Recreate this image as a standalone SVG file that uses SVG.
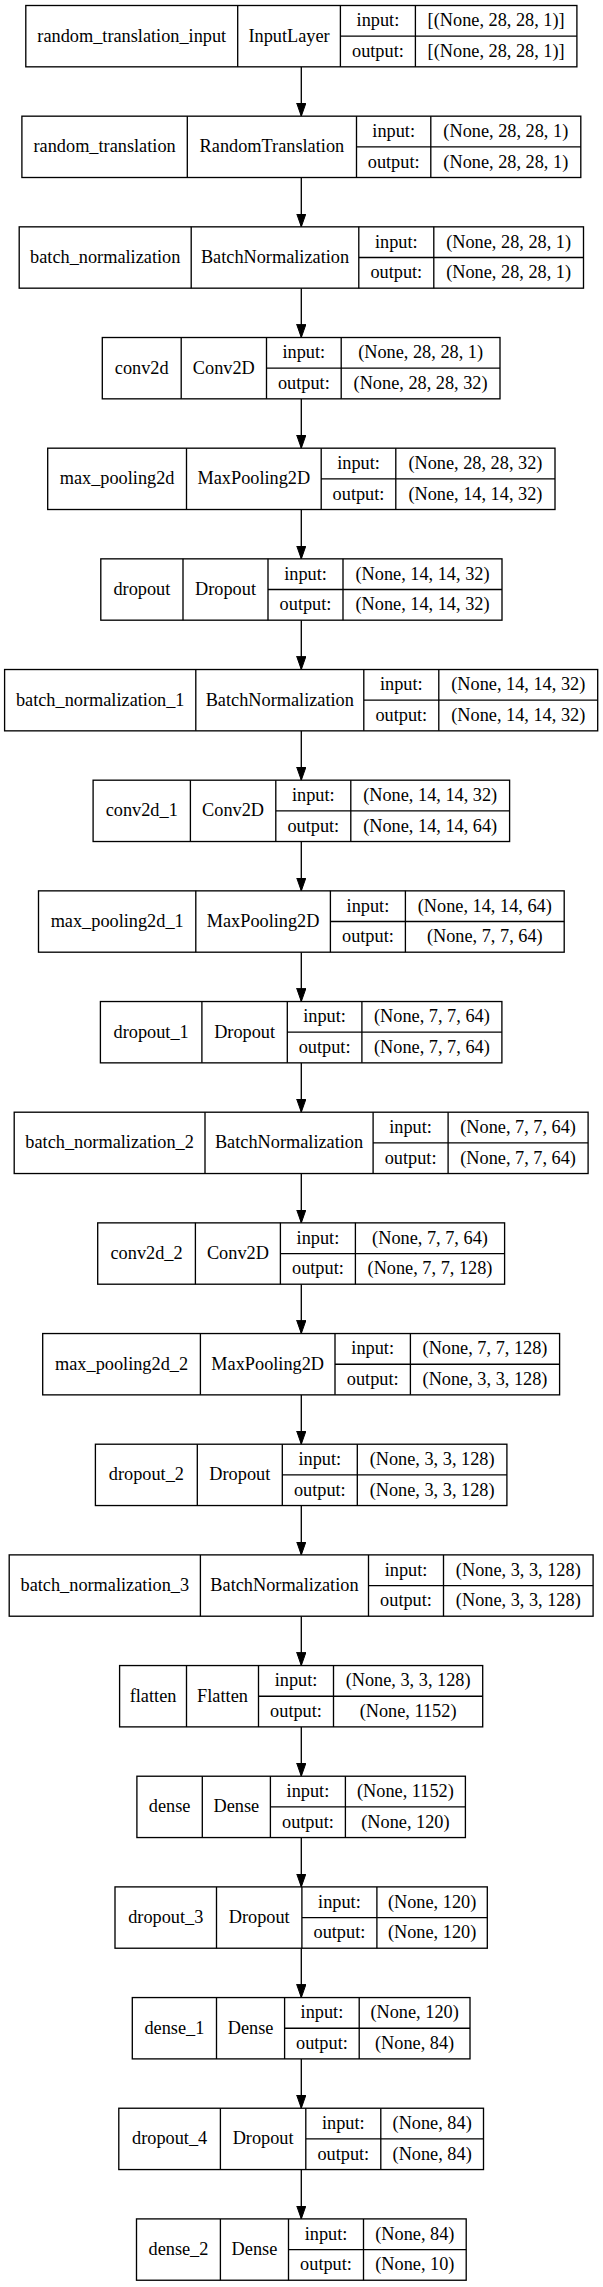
<svg xmlns="http://www.w3.org/2000/svg" width="603" height="2287" viewBox="0 0 603 2287">
<style>
.b{fill:#fff;stroke:#000;stroke-width:1.33}
.l{stroke:#000;stroke-width:1.33;fill:none}
text{font-family:"Liberation Serif","Times New Roman",serif;font-size:18.3px;fill:#000;text-anchor:middle}
.e{stroke:#000;stroke-width:1.33;fill:none}
</style>
<defs>
<marker id="ah" markerUnits="userSpaceOnUse" markerWidth="14" markerHeight="10" refX="13.3" refY="4.67" orient="auto">
<path d="M0,0 L13.3,4.67 L0,9.33 z" fill="#000" stroke="#000" stroke-width="1"/>
</marker>
</defs>
<rect x="0" y="0" width="603" height="2287" fill="#fff"/>
<g id="connectors">
<line class="e" x1="301.3" y1="66.8" x2="301.3" y2="116.2" marker-end="url(#ah)"/>
<line class="e" x1="301.3" y1="177.5" x2="301.3" y2="226.8" marker-end="url(#ah)"/>
<line class="e" x1="301.3" y1="288.2" x2="301.3" y2="337.5" marker-end="url(#ah)"/>
<line class="e" x1="301.3" y1="398.8" x2="301.3" y2="448.2" marker-end="url(#ah)"/>
<line class="e" x1="301.3" y1="509.5" x2="301.3" y2="558.9" marker-end="url(#ah)"/>
<line class="e" x1="301.3" y1="620.2" x2="301.3" y2="669.5" marker-end="url(#ah)"/>
<line class="e" x1="301.3" y1="730.9" x2="301.3" y2="780.2" marker-end="url(#ah)"/>
<line class="e" x1="301.3" y1="841.5" x2="301.3" y2="890.9" marker-end="url(#ah)"/>
<line class="e" x1="301.3" y1="952.2" x2="301.3" y2="1001.5" marker-end="url(#ah)"/>
<line class="e" x1="301.3" y1="1062.9" x2="301.3" y2="1112.2" marker-end="url(#ah)"/>
<line class="e" x1="301.3" y1="1173.5" x2="301.3" y2="1222.9" marker-end="url(#ah)"/>
<line class="e" x1="301.3" y1="1284.2" x2="301.3" y2="1333.5" marker-end="url(#ah)"/>
<line class="e" x1="301.3" y1="1394.9" x2="301.3" y2="1444.2" marker-end="url(#ah)"/>
<line class="e" x1="301.3" y1="1505.5" x2="301.3" y2="1554.9" marker-end="url(#ah)"/>
<line class="e" x1="301.3" y1="1616.2" x2="301.3" y2="1665.5" marker-end="url(#ah)"/>
<line class="e" x1="301.3" y1="1726.9" x2="301.3" y2="1776.2" marker-end="url(#ah)"/>
<line class="e" x1="301.3" y1="1837.5" x2="301.3" y2="1886.9" marker-end="url(#ah)"/>
<line class="e" x1="301.3" y1="1948.2" x2="301.3" y2="1997.6" marker-end="url(#ah)"/>
<line class="e" x1="301.3" y1="2058.9" x2="301.3" y2="2108.2" marker-end="url(#ah)"/>
<line class="e" x1="301.3" y1="2169.6" x2="301.3" y2="2218.9" marker-end="url(#ah)"/>
</g>

<g id="random_translation_input" transform="translate(0,5.5)">
<rect class="b" x="25.8" y="0" width="551.1" height="61.33"/>
<path class="l" d="M237.7,0V61.33M340.4,0V61.33M415.4,0V61.33M340.4,30.67H576.9"/>
<text x="131.75" y="36.2">random_translation_input</text>
<text x="289.05" y="36.2">InputLayer</text>
<text x="377.9" y="20.8">input:</text><text x="377.9" y="51.5">output:</text>
<text x="496.15" y="20.8">[(None, 28, 28, 1)]</text><text x="496.15" y="51.5">[(None, 28, 28, 1)]</text>
</g>

<g id="random_translation" transform="translate(0,116.17)">
<rect class="b" x="21.9" y="0" width="558.9" height="61.33"/>
<path class="l" d="M187.3,0V61.33M356.5,0V61.33M430.8,0V61.33M356.5,30.67H580.8"/>
<text x="104.6" y="36.2">random_translation</text>
<text x="271.9" y="36.2">RandomTranslation</text>
<text x="393.65" y="20.8">input:</text><text x="393.65" y="51.5">output:</text>
<text x="505.8" y="20.8">(None, 28, 28, 1)</text><text x="505.8" y="51.5">(None, 28, 28, 1)</text>
</g>

<g id="batch_normalization" transform="translate(0,226.84)">
<rect class="b" x="19.2" y="0" width="564.3" height="61.33"/>
<path class="l" d="M191.2,0V61.33M358.8,0V61.33M433.8,0V61.33M358.8,30.67H583.5"/>
<text x="105.2" y="36.2">batch_normalization</text>
<text x="275" y="36.2">BatchNormalization</text>
<text x="396.3" y="20.8">input:</text><text x="396.3" y="51.5">output:</text>
<text x="508.65" y="20.8">(None, 28, 28, 1)</text><text x="508.65" y="51.5">(None, 28, 28, 1)</text>
</g>

<g id="conv2d" transform="translate(0,337.51)">
<rect class="b" x="102.3" y="0" width="397.7" height="61.33"/>
<path class="l" d="M181.2,0V61.33M266.5,0V61.33M341.2,0V61.33M266.5,30.67H500"/>
<text x="141.75" y="36.2">conv2d</text>
<text x="223.85" y="36.2">Conv2D</text>
<text x="303.85" y="20.8">input:</text><text x="303.85" y="51.5">output:</text>
<text x="420.6" y="20.8">(None, 28, 28, 1)</text><text x="420.6" y="51.5">(None, 28, 28, 32)</text>
</g>

<g id="max_pooling2d" transform="translate(0,448.18)">
<rect class="b" x="47.7" y="0" width="507.3" height="61.33"/>
<path class="l" d="M186.5,0V61.33M321.2,0V61.33M395.8,0V61.33M321.2,30.67H555"/>
<text x="117.1" y="36.2">max_pooling2d</text>
<text x="253.85" y="36.2">MaxPooling2D</text>
<text x="358.5" y="20.8">input:</text><text x="358.5" y="51.5">output:</text>
<text x="475.4" y="20.8">(None, 28, 28, 32)</text><text x="475.4" y="51.5">(None, 14, 14, 32)</text>
</g>

<g id="dropout" transform="translate(0,558.85)">
<rect class="b" x="100.8" y="0" width="401.2" height="61.33"/>
<path class="l" d="M183,0V61.33M268,0V61.33M343,0V61.33M268,30.67H502"/>
<text x="141.9" y="36.2">dropout</text>
<text x="225.5" y="36.2">Dropout</text>
<text x="305.5" y="20.8">input:</text><text x="305.5" y="51.5">output:</text>
<text x="422.5" y="20.8">(None, 14, 14, 32)</text><text x="422.5" y="51.5">(None, 14, 14, 32)</text>
</g>

<g id="batch_normalization_1" transform="translate(0,669.52)">
<rect class="b" x="4.6" y="0" width="593.1" height="61.33"/>
<path class="l" d="M195.8,0V61.33M363.8,0V61.33M438.8,0V61.33M363.8,30.67H597.7"/>
<text x="100.2" y="36.2">batch_normalization_1</text>
<text x="279.8" y="36.2">BatchNormalization</text>
<text x="401.3" y="20.8">input:</text><text x="401.3" y="51.5">output:</text>
<text x="518.25" y="20.8">(None, 14, 14, 32)</text><text x="518.25" y="51.5">(None, 14, 14, 32)</text>
</g>

<g id="conv2d_1" transform="translate(0,780.19)">
<rect class="b" x="93.1" y="0" width="416.5" height="61.33"/>
<path class="l" d="M190.4,0V61.33M275.8,0V61.33M350.8,0V61.33M275.8,30.67H509.6"/>
<text x="141.75" y="36.2">conv2d_1</text>
<text x="233.1" y="36.2">Conv2D</text>
<text x="313.3" y="20.8">input:</text><text x="313.3" y="51.5">output:</text>
<text x="430.2" y="20.8">(None, 14, 14, 32)</text><text x="430.2" y="51.5">(None, 14, 14, 64)</text>
</g>

<g id="max_pooling2d_1" transform="translate(0,890.86)">
<rect class="b" x="38.5" y="0" width="525.7" height="61.33"/>
<path class="l" d="M195.8,0V61.33M330.4,0V61.33M405.4,0V61.33M330.4,30.67H564.2"/>
<text x="117.15" y="36.2">max_pooling2d_1</text>
<text x="263.1" y="36.2">MaxPooling2D</text>
<text x="367.9" y="20.8">input:</text><text x="367.9" y="51.5">output:</text>
<text x="484.8" y="20.8">(None, 14, 14, 64)</text><text x="484.8" y="51.5">(None, 7, 7, 64)</text>
</g>

<g id="dropout_1" transform="translate(0,1001.53)">
<rect class="b" x="100.4" y="0" width="401.5" height="61.33"/>
<path class="l" d="M201.9,0V61.33M287.3,0V61.33M361.9,0V61.33M287.3,30.67H501.9"/>
<text x="151.15" y="36.2">dropout_1</text>
<text x="244.6" y="36.2">Dropout</text>
<text x="324.6" y="20.8">input:</text><text x="324.6" y="51.5">output:</text>
<text x="431.9" y="20.8">(None, 7, 7, 64)</text><text x="431.9" y="51.5">(None, 7, 7, 64)</text>
</g>

<g id="batch_normalization_2" transform="translate(0,1112.2)">
<rect class="b" x="14.2" y="0" width="573.9" height="61.33"/>
<path class="l" d="M205,0V61.33M373.1,0V61.33M448.1,0V61.33M373.1,30.67H588.1"/>
<text x="109.6" y="36.2">batch_normalization_2</text>
<text x="289.05" y="36.2">BatchNormalization</text>
<text x="410.6" y="20.8">input:</text><text x="410.6" y="51.5">output:</text>
<text x="518.1" y="20.8">(None, 7, 7, 64)</text><text x="518.1" y="51.5">(None, 7, 7, 64)</text>
</g>

<g id="conv2d_2" transform="translate(0,1222.87)">
<rect class="b" x="97.7" y="0" width="406.9" height="61.33"/>
<path class="l" d="M195.4,0V61.33M280.4,0V61.33M355.4,0V61.33M280.4,30.67H504.6"/>
<text x="146.55" y="36.2">conv2d_2</text>
<text x="237.9" y="36.2">Conv2D</text>
<text x="317.9" y="20.8">input:</text><text x="317.9" y="51.5">output:</text>
<text x="430" y="20.8">(None, 7, 7, 64)</text><text x="430" y="51.5">(None, 7, 7, 128)</text>
</g>

<g id="max_pooling2d_2" transform="translate(0,1333.54)">
<rect class="b" x="42.7" y="0" width="516.9" height="61.33"/>
<path class="l" d="M200.4,0V61.33M335,0V61.33M410.4,0V61.33M335,30.67H559.6"/>
<text x="121.55" y="36.2">max_pooling2d_2</text>
<text x="267.7" y="36.2">MaxPooling2D</text>
<text x="372.7" y="20.8">input:</text><text x="372.7" y="51.5">output:</text>
<text x="485" y="20.8">(None, 7, 7, 128)</text><text x="485" y="51.5">(None, 3, 3, 128)</text>
</g>

<g id="dropout_2" transform="translate(0,1444.21)">
<rect class="b" x="95.4" y="0" width="411.5" height="61.33"/>
<path class="l" d="M197.3,0V61.33M282.3,0V61.33M357.3,0V61.33M282.3,30.67H506.9"/>
<text x="146.35" y="36.2">dropout_2</text>
<text x="239.8" y="36.2">Dropout</text>
<text x="319.8" y="20.8">input:</text><text x="319.8" y="51.5">output:</text>
<text x="432.1" y="20.8">(None, 3, 3, 128)</text><text x="432.1" y="51.5">(None, 3, 3, 128)</text>
</g>

<g id="batch_normalization_3" transform="translate(0,1554.88)">
<rect class="b" x="9.2" y="0" width="583.9" height="61.33"/>
<path class="l" d="M200.4,0V61.33M368.5,0V61.33M443.5,0V61.33M368.5,30.67H593.1"/>
<text x="104.8" y="36.2">batch_normalization_3</text>
<text x="284.45" y="36.2">BatchNormalization</text>
<text x="406" y="20.8">input:</text><text x="406" y="51.5">output:</text>
<text x="518.3" y="20.8">(None, 3, 3, 128)</text><text x="518.3" y="51.5">(None, 3, 3, 128)</text>
</g>

<g id="flatten" transform="translate(0,1665.55)">
<rect class="b" x="119.6" y="0" width="363.1" height="61.33"/>
<path class="l" d="M186.5,0V61.33M258.5,0V61.33M333.5,0V61.33M258.5,30.67H482.7"/>
<text x="153.05" y="36.2">flatten</text>
<text x="222.5" y="36.2">Flatten</text>
<text x="296" y="20.8">input:</text><text x="296" y="51.5">output:</text>
<text x="408.1" y="20.8">(None, 3, 3, 128)</text><text x="408.1" y="51.5">(None, 1152)</text>
</g>

<g id="dense" transform="translate(0,1776.22)">
<rect class="b" x="136.9" y="0" width="328.5" height="61.33"/>
<path class="l" d="M202.3,0V61.33M270.4,0V61.33M345.4,0V61.33M270.4,30.67H465.4"/>
<text x="169.6" y="36.2">dense</text>
<text x="236.35" y="36.2">Dense</text>
<text x="307.9" y="20.8">input:</text><text x="307.9" y="51.5">output:</text>
<text x="405.4" y="20.8">(None, 1152)</text><text x="405.4" y="51.5">(None, 120)</text>
</g>

<g id="dropout_3" transform="translate(0,1886.89)">
<rect class="b" x="115" y="0" width="372.3" height="61.33"/>
<path class="l" d="M216.5,0V61.33M301.9,0V61.33M376.9,0V61.33M301.9,30.67H487.3"/>
<text x="165.75" y="36.2">dropout_3</text>
<text x="259.2" y="36.2">Dropout</text>
<text x="339.4" y="20.8">input:</text><text x="339.4" y="51.5">output:</text>
<text x="432.1" y="20.8">(None, 120)</text><text x="432.1" y="51.5">(None, 120)</text>
</g>

<g id="dense_1" transform="translate(0,1997.56)">
<rect class="b" x="132.3" y="0" width="337.7" height="61.33"/>
<path class="l" d="M216.5,0V61.33M284.6,0V61.33M359.2,0V61.33M284.6,30.67H470"/>
<text x="174.4" y="36.2">dense_1</text>
<text x="250.55" y="36.2">Dense</text>
<text x="321.9" y="20.8">input:</text><text x="321.9" y="51.5">output:</text>
<text x="414.6" y="20.8">(None, 120)</text><text x="414.6" y="51.5">(None, 84)</text>
</g>

<g id="dropout_4" transform="translate(0,2108.23)">
<rect class="b" x="118.8" y="0" width="364.7" height="61.33"/>
<path class="l" d="M220.4,0V61.33M305.8,0V61.33M380.8,0V61.33M305.8,30.67H483.5"/>
<text x="169.6" y="36.2">dropout_4</text>
<text x="263.1" y="36.2">Dropout</text>
<text x="343.3" y="20.8">input:</text><text x="343.3" y="51.5">output:</text>
<text x="432.15" y="20.8">(None, 84)</text><text x="432.15" y="51.5">(None, 84)</text>
</g>

<g id="dense_2" transform="translate(0,2218.9)">
<rect class="b" x="136.5" y="0" width="329.7" height="61.33"/>
<path class="l" d="M220.4,0V61.33M288.5,0V61.33M363.5,0V61.33M288.5,30.67H466.2"/>
<text x="178.45" y="36.2">dense_2</text>
<text x="254.45" y="36.2">Dense</text>
<text x="326" y="20.8">input:</text><text x="326" y="51.5">output:</text>
<text x="414.85" y="20.8">(None, 84)</text><text x="414.85" y="51.5">(None, 10)</text>
</g>
</svg>
